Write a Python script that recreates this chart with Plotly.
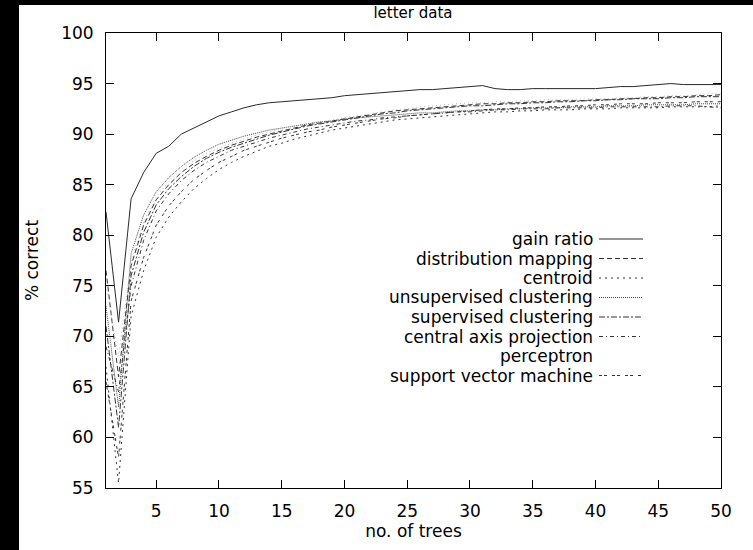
import plotly.graph_objects as go

# number of trees in the ensemble
trees = list(range(1, 51))

gain_ratio = [82.3, 71.4, 83.6, 86.2, 88.1, 88.8, 90.0, 90.6, 91.2, 91.8,
              92.2, 92.6, 92.9, 93.1, 93.2, 93.3, 93.4, 93.5, 93.6, 93.8,
              93.9, 94.0, 94.1, 94.2, 94.3, 94.4, 94.4, 94.5, 94.6, 94.7,
              94.8, 94.5, 94.4, 94.4, 94.5, 94.5, 94.5, 94.5, 94.5, 94.5,
              94.6, 94.7, 94.7, 94.8, 94.9, 95.0, 94.9, 94.9, 94.9, 94.9]

distribution_mapping = [76.5, 66.0, 77.0, 81.0, 83.5, 85.0, 86.2, 87.1, 87.8, 88.4,
                        88.9, 89.3, 89.7, 90.0, 90.3, 90.6, 90.9, 91.1, 91.3, 91.5,
                        91.7, 91.9, 92.1, 92.3, 92.4, 92.5, 92.6, 92.7, 92.8, 92.9,
                        93.0, 93.0, 93.1, 93.1, 93.2, 93.2, 93.3, 93.3, 93.3, 93.4,
                        93.4, 93.5, 93.5, 93.6, 93.6, 93.7, 93.7, 93.8, 93.8, 93.9]

centroid = [67.0, 55.5, 72.0, 76.5, 79.8, 81.8, 83.3, 84.6, 85.6, 86.5,
            87.2, 87.8, 88.3, 88.8, 89.1, 89.5, 89.8, 90.1, 90.4, 90.6,
            90.8, 91.0, 91.2, 91.4, 91.5, 91.6, 91.7, 91.8, 91.9, 92.0,
            92.1, 92.2, 92.2, 92.3, 92.3, 92.4, 92.4, 92.4, 92.5, 92.5,
            92.5, 92.6, 92.6, 92.6, 92.6, 92.7, 92.7, 92.7, 92.7, 92.8]

unsupervised_clustering = [73.0, 63.0, 78.2, 82.0, 84.3, 85.7, 86.8, 87.7, 88.4, 89.0,
                           89.4, 89.8, 90.1, 90.4, 90.6, 90.8, 91.0, 91.2, 91.3, 91.5,
                           91.6, 91.7, 91.8, 91.9, 92.0, 92.1, 92.1, 92.2, 92.3, 92.3,
                           92.4, 92.4, 92.5, 92.5, 92.6, 92.6, 92.6, 92.7, 92.7, 92.7,
                           92.8, 92.8, 92.8, 92.9, 92.9, 92.9, 92.9, 93.0, 93.0, 93.0]

supervised_clustering = [71.0, 61.0, 76.0, 80.3, 83.0, 84.6, 85.8, 86.8, 87.6, 88.2,
                         88.7, 89.1, 89.5, 89.9, 90.2, 90.5, 90.8, 91.0, 91.2, 91.4,
                         91.6, 91.8, 92.0, 92.1, 92.3, 92.4, 92.5, 92.6, 92.7, 92.8,
                         92.8, 92.9, 93.0, 93.0, 93.1, 93.1, 93.2, 93.2, 93.3, 93.3,
                         93.4, 93.4, 93.5, 93.5, 93.5, 93.6, 93.6, 93.7, 93.7, 93.7]

central_axis_projection = [69.0, 64.5, 75.0, 79.5, 82.4, 84.1, 85.4, 86.4, 87.2, 87.8,
                           88.4, 88.8, 89.2, 89.6, 89.9, 90.2, 90.5, 90.7, 90.9, 91.1,
                           91.3, 91.4, 91.6, 91.7, 91.8, 91.9, 92.0, 92.1, 92.2, 92.2,
                           92.3, 92.4, 92.4, 92.5, 92.5, 92.5, 92.6, 92.6, 92.6, 92.6,
                           92.7, 92.7, 92.7, 92.7, 92.7, 92.8, 92.8, 92.8, 92.7, 92.6]

perceptron = [75.0, 68.0, 77.5, 81.3, 83.8, 85.3, 86.5, 87.4, 88.1, 88.6,
              89.1, 89.5, 89.9, 90.2, 90.5, 90.8, 91.0, 91.2, 91.4, 91.6,
              91.8, 92.0, 92.2, 92.4, 92.5, 92.7, 92.8, 92.9, 93.0, 93.1,
              93.1, 93.2, 93.2, 93.3, 93.3, 93.4, 93.4, 93.4, 93.5, 93.5,
              93.5, 93.6, 93.6, 93.7, 93.7, 93.8, 93.8, 93.9, 94.0, 94.0]

support_vector_machine = [65.5, 58.0, 73.5, 77.8, 81.0, 82.9, 84.3, 85.5, 86.4, 87.2,
                          87.8, 88.4, 88.8, 89.2, 89.6, 89.9, 90.2, 90.4, 90.7, 90.9,
                          91.1, 91.3, 91.5, 91.6, 91.8, 91.9, 92.0, 92.1, 92.2, 92.3,
                          92.4, 92.5, 92.5, 92.6, 92.6, 92.7, 92.7, 92.8, 92.8, 92.9,
                          92.9, 93.0, 93.0, 93.0, 93.1, 93.1, 93.1, 93.2, 93.2, 93.2]

x_ticks = [5, 10, 15, 20, 25, 30, 35, 40, 45, 50]
y_ticks = [55, 60, 65, 70, 75, 80, 85, 90, 95, 100]

# (label, values, dash pattern, colour, show key sample)
series = [
    ("gain ratio", gain_ratio, "solid", "#2a2a2a", True),
    ("distribution mapping", distribution_mapping, "5px,3px", "#333333", True),
    ("centroid", centroid, "2px,4px", "#333333", True),
    ("unsupervised clustering", unsupervised_clustering, "1px,1px", "#444444", True),
    ("supervised clustering", supervised_clustering, "6px,2px,2px,2px", "#333333", True),
    ("central axis projection", central_axis_projection, "4px,3px,1px,3px", "#333333", True),
    ("perceptron", perceptron, "1px,3px", "#bbbbbb", False),
    ("support vector machine", support_vector_machine, "3px,2px,3px,5px", "#333333", True),
]

FONT = "DejaVu Sans, Verdana, sans-serif"

fig = go.Figure()
for name, vals, dash, color, _ in series:
    fig.add_trace(go.Scatter(x=trees, y=vals, mode="lines", name=name,
                             line=dict(color=color, width=1, dash=dash),
                             showlegend=False, hoverinfo="skip"))

# plot area in pixels: left 106, right 721, top 33, bottom 488
L, R, T, B = 106, 721, 33, 488
W, H = 753, 550
pw, ph = R - L, B - T


def px_x(p):
    return (p - L) / pw


def px_y(p):
    return (B - p) / ph


shapes = [
    # dark frame strips along the left and top edges of the page
    dict(type="rect", xref="paper", yref="paper", layer="below",
         x0=px_x(0), x1=px_x(19), y0=px_y(0), y1=px_y(H),
         fillcolor="black", line=dict(width=0)),
    dict(type="rect", xref="paper", yref="paper", layer="below",
         x0=px_x(0), x1=px_x(W), y0=px_y(0), y1=px_y(5),
         fillcolor="black", line=dict(width=0)),
]

annotations = []
key_top, key_step = 239, 19.5
for i, (name, vals, dash, color, show) in enumerate(series):
    yy = px_y(key_top + i * key_step)
    annotations.append(dict(text=name, xref="paper", yref="paper",
                            x=px_x(595), y=yy, xanchor="right", yanchor="middle",
                            showarrow=False,
                            font=dict(family=FONT, size=17, color="black")))
    if show:
        shapes.append(dict(type="line", xref="paper", yref="paper",
                           x0=px_x(599), x1=px_x(643), y0=yy, y1=yy,
                           line=dict(color=color, width=1, dash=dash)))

fig.update_layout(
    width=W, height=H,
    margin=dict(l=L, r=W - R, t=T, b=H - B, pad=0),
    paper_bgcolor="white",
    plot_bgcolor="white",
    title=dict(text="letter data", x=413 / W, xanchor="center",
               y=1 - 13 / H, yanchor="middle",
               font=dict(family=FONT, size=15, color="black")),
    xaxis=dict(range=[1, 50], tickvals=x_ticks, ticks="inside", ticklen=8,
               tickwidth=1, tickcolor="black", showline=True, linecolor="black",
               linewidth=1, mirror="ticks", showgrid=False, zeroline=False,
               ticklabelstandoff=8,
               tickfont=dict(family=FONT, size=17, color="black"),
               title=dict(text="no. of trees", standoff=2,
                          font=dict(family=FONT, size=17, color="black"))),
    yaxis=dict(range=[55, 100], tickvals=y_ticks, ticks="inside", ticklen=8,
               tickwidth=1, tickcolor="black", showline=True, linecolor="black",
               linewidth=1, mirror="ticks", showgrid=False, zeroline=False,
               ticklabelstandoff=8,
               tickfont=dict(family=FONT, size=17, color="black"),
               title=dict(text="% correct", standoff=18,
                          font=dict(family=FONT, size=17, color="black"))),
    shapes=shapes,
    annotations=annotations,
)

fig.write_html("out.html")
